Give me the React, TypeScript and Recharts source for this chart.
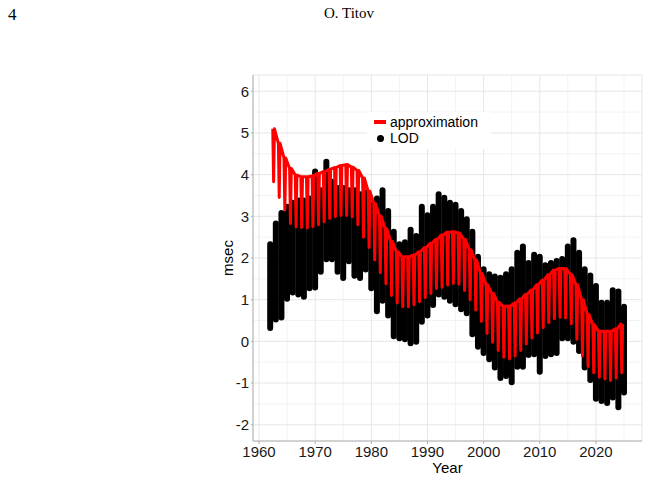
import React from "react";
import {
  Bar,
  CartesianGrid,
  ComposedChart,
  Label,
  Line,
  XAxis,
  YAxis
} from "recharts";

// LOD observations: yearly spread of the daily values (msec)
const lodYears = [
  1962, 1963, 1964, 1965, 1966, 1967, 1968, 1969, 1970, 1971, 1972, 1973, 1974, 1975, 1976, 1977,
  1978, 1979, 1980, 1981, 1982, 1983, 1984, 1985, 1986, 1987, 1988, 1989, 1990, 1991, 1992, 1993,
  1994, 1995, 1996, 1997, 1998, 1999, 2000, 2001, 2002, 2003, 2004, 2005, 2006, 2007, 2008, 2009,
  2010, 2011, 2012, 2013, 2014, 2015, 2016, 2017, 2018, 2019, 2020, 2021, 2022, 2023, 2024, 2025
];
const lodLow = [
  0.25, 0.45, 0.5, 0.95, 1.1, 1.05, 1.0, 1.2, 1.22, 1.6, 1.9, 1.9, 1.6, 1.45, 1.85, 1.5,
  1.45, 1.65, 1.2, 0.65, 0.9, 0.55, 0.05, 0.0, -0.02, -0.12, -0.08, 0.4, 0.55, 0.8, 1.05, 1.0,
  0.9, 0.82, 0.7, 0.6, 0.1, -0.2, -0.35, -0.5, -0.7, -0.95, -0.9, -1.05, -0.68, -0.68, -0.4, -0.38,
  -0.8, -0.42, -0.38, -0.35, 0.0, 0.0, -0.08, -0.3, -0.7, -1.0, -1.45, -1.5, -1.55, -1.42, -1.65, -1.3
];
const lodHigh = [
  2.4, 2.9, 3.15, 3.3, 3.4, 3.45, 3.45, 3.5, 4.15, 3.7, 4.38, 3.9, 3.75, 3.75, 3.7, 3.7,
  3.6, 3.65, 3.35, 3.5, 3.7, 3.2, 2.7, 2.4, 2.45, 2.75, 2.6, 3.3, 3.1, 3.3, 3.6, 3.52,
  3.4, 3.35, 3.2, 3.0, 2.7, 2.1, 1.8, 1.68, 1.63, 1.6, 1.68, 1.8, 2.2, 2.35, 1.95, 2.15,
  2.1, 1.9, 1.95, 2.0, 2.05, 2.35, 2.5, 2.2, 1.8, 1.65, 1.4, 1.0, 1.0, 1.3, 1.27, 0.9
];

// fitted approximation: annual high and the yearly dip
const approxYears = [
  1962, 1963, 1964, 1965, 1966, 1967, 1968, 1969, 1970, 1971, 1972, 1973, 1974, 1975, 1976, 1977,
  1978, 1979, 1980, 1981, 1982, 1983, 1984, 1985, 1986, 1987, 1988, 1989, 1990, 1991, 1992, 1993,
  1994, 1995, 1996, 1997, 1998, 1999, 2000, 2001, 2002, 2003, 2004, 2005, 2006, 2007, 2008, 2009,
  2010, 2011, 2012, 2013, 2014, 2015, 2016, 2017, 2018, 2019, 2020, 2021, 2022, 2023, 2024
];
const approxHigh = [
  5.1, 4.75, 4.4, 4.15, 3.99, 3.95, 3.95, 3.97, 4.03, 4.07, 4.13, 4.17, 4.22, 4.24, 4.18, 4.1,
  3.92, 3.6, 3.3, 3.0, 2.7, 2.4, 2.15, 2.03, 2.03, 2.07, 2.15, 2.25, 2.35, 2.45, 2.55, 2.62,
  2.63, 2.6, 2.45, 2.2, 1.95, 1.63, 1.35, 1.15, 0.94, 0.84, 0.85, 0.92, 1.02, 1.13, 1.23, 1.36,
  1.47, 1.6, 1.71, 1.75, 1.74, 1.6, 1.35, 1.0, 0.65, 0.4, 0.24, 0.24, 0.24, 0.3, 0.42
];
const approxLow = [
  3.83, 3.45, 3.15, 2.83, 2.75, 2.73, 2.72, 2.75, 2.8, 2.87, 2.95, 2.99, 3.02, 3.02, 2.99, 2.8,
  2.5, 2.25, 1.95, 1.65, 1.38, 1.1, 0.92, 0.83, 0.83, 0.88, 0.95, 1.05, 1.15, 1.27, 1.3, 1.35,
  1.39, 1.37, 1.22, 1.0, 0.75, 0.48, 0.19, -0.02, -0.22, -0.38, -0.42, -0.35, -0.22, -0.06, 0.08, 0.2,
  0.33, 0.45, 0.54, 0.58, 0.56, 0.42, 0.05, -0.35, -0.6, -0.75, -0.86, -0.9, -0.94, -0.88, -0.75
];

const yearTicks = [1960, 1970, 1980, 1990, 2000, 2010, 2020];
const yearMinor = [1965, 1975, 1985, 1995, 2005, 2015, 2025];
const msecTicks = [-2, -1, 0, 1, 2, 3, 4, 5, 6];
const msecMinor = [-1.5, -0.5, 0.5, 1.5, 2.5, 3.5, 4.5, 5.5];

type Row = { t: number; lod?: [number, number]; approx?: number };

const rows: Row[] = [];
lodYears.forEach((year, i) => rows.push({ t: year, lod: [lodLow[i], lodHigh[i]] }));
approxYears.forEach((year, i) => {
  rows.push({ t: year + 0.45, approx: approxHigh[i] });
  rows.push({ t: year + 0.6, approx: approxLow[i] });
  rows.push({ t: year + 0.75, approx: approxHigh[i] });
});
rows.sort((a, b) => a.t - b.t);

const sans = "'Liberation Sans', Arial, sans-serif";
const tickStyle = { fontSize: 15, fill: "#1a1a1a", fontFamily: sans };

// each year of LOD drawn as a rounded column, like a stack of dots
const LodColumn = (props: any) => {
  const { x, y, width, height, payload } = props;
  if (!payload || !payload.lod || !Number.isFinite(y) || !Number.isFinite(height)) return <g />;
  const cx = x + width / 2;
  const top = Math.min(y, y + height);
  const h = Math.abs(height);
  return <rect x={cx - 3} y={top} width={6} height={h} rx={3} ry={3} fill="#000" />;
};

function LegendBox() {
  return (
    <div
      style={{
        position: "absolute",
        left: 367,
        top: 112,
        width: 124,
        height: 37,
        background: "#fff",
        fontFamily: sans,
        fontSize: 14,
        color: "#000"
      }}
    >
      <div style={{ position: "absolute", left: 7, top: 8, width: 12, height: 4, background: "#ff0000" }} />
      <div style={{ position: "absolute", left: 23, top: 2, lineHeight: "16px" }}>approximation</div>
      <div
        style={{
          position: "absolute",
          left: 10,
          top: 22.5,
          width: 7,
          height: 7,
          borderRadius: "50%",
          background: "#000"
        }}
      />
      <div style={{ position: "absolute", left: 23, top: 18, lineHeight: "16px" }}>LOD</div>
    </div>
  );
}

export default function App() {
  return (
    <div style={{ position: "absolute", left: 0, top: 0, width: 649, height: 479, background: "#fff" }}>
      <div
        style={{
          position: "absolute",
          left: 8,
          top: 5,
          fontFamily: "'Liberation Serif', 'Times New Roman', serif",
          fontSize: 17
        }}
      >
        4
      </div>
      <div
        style={{
          position: "absolute",
          left: 324,
          top: 5,
          fontFamily: "'Liberation Serif', 'Times New Roman', serif",
          fontSize: 15
        }}
      >
        O. Titov
      </div>

      <ComposedChart
        width={649}
        height={479}
        data={rows}
        margin={{ top: 75, right: 7, bottom: 0, left: 203 }}
        style={{ position: "absolute", left: 0, top: 0 }}
      >
        <CartesianGrid
          stroke="#f3f3f3"
          horizontalValues={msecMinor}
          verticalValues={yearMinor}
        />
        <CartesianGrid stroke="#e6e6e6" />
        <XAxis
          dataKey="t"
          type="number"
          domain={[1958.93, 2028.2]}
          allowDataOverflow
          ticks={yearTicks}
          tick={tickStyle}
          tickSize={3}
          tickMargin={2}
          height={38}
          stroke="#b0b0b0"
        >
          <Label
            value="Year"
            position="insideBottom"
            offset={6}
            style={{ fontSize: 15, fill: "#000", fontFamily: sans }}
          />
        </XAxis>
        <XAxis
          xAxisId="top"
          orientation="top"
          dataKey="t"
          type="number"
          domain={[1958.93, 2028.2]}
          height={0}
          tick={false}
          tickLine={false}
          stroke="#d4d4d4"
        />
        <YAxis
          type="number"
          domain={[-2.39, 6.39]}
          allowDataOverflow
          ticks={msecTicks}
          tick={tickStyle}
          tickSize={2}
          tickMargin={2}
          width={50}
          stroke="#b0b0b0"
        >
          <Label
            value="msec"
            angle={-90}
            position="center"
            style={{ fontSize: 15, fill: "#000", fontFamily: sans }}
          />
        </YAxis>
        <YAxis
          yAxisId="right"
          orientation="right"
          type="number"
          domain={[-2.39, 6.39]}
          width={0}
          tick={false}
          tickLine={false}
          stroke="#d4d4d4"
        />
        <Bar dataKey="lod" barSize={6} shape={LodColumn} isAnimationActive={false} />
        <Line
          dataKey="approx"
          type="linear"
          stroke="#ff0000"
          strokeWidth={3}
          strokeLinejoin="round"
          dot={false}
          connectNulls
          isAnimationActive={false}
        />
      </ComposedChart>
      <LegendBox />
    </div>
  );
}
